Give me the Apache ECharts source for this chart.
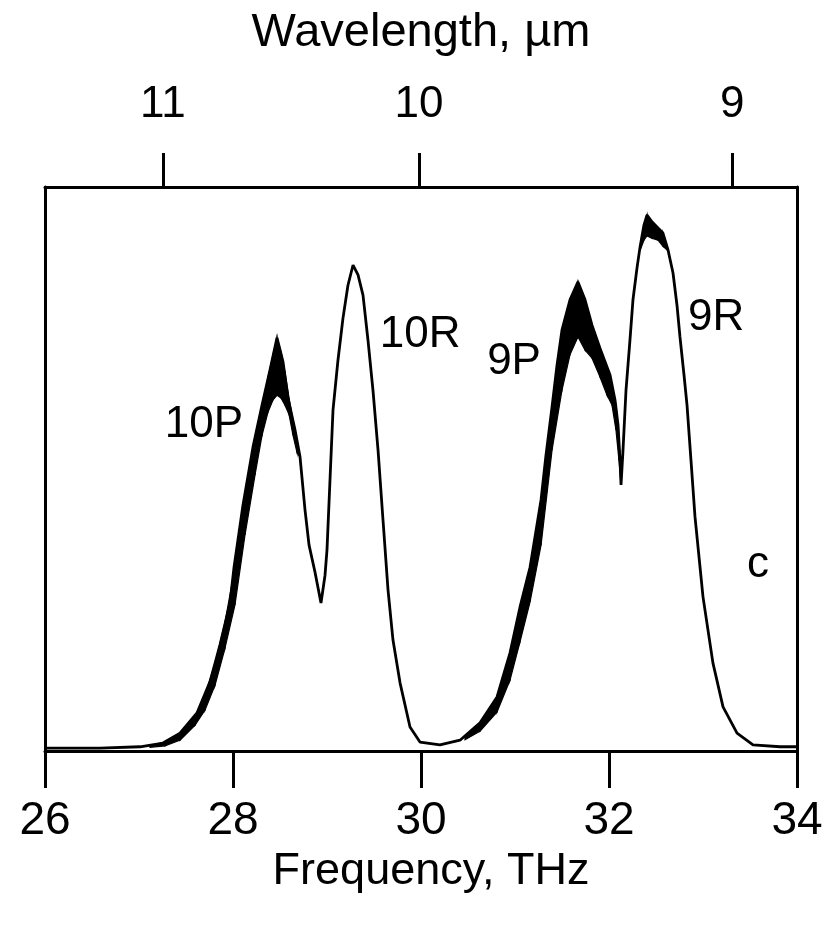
<!DOCTYPE html>
<html>
<head>
<meta charset="utf-8">
<script src="https://cdn.jsdelivr.net/npm/echarts@6/dist/echarts.min.js"></script>
<style>
  html, body { margin: 0; padding: 0; background: #fff; }
  #chart { width: 836px; height: 927px; }
</style>
</head>
<body>
<div id="chart"></div>
<script>
// ---- Data (frequency in THz, intensity in arbitrary units) ----
const spectrumFreq = [26.000, 26.585, 27.011, 27.255, 27.436, 27.617, 27.755, 27.862, 27.968, 28.011,
  28.106, 28.213, 28.309, 28.394, 28.468, 28.532, 28.585, 28.660, 28.713, 28.766,
  28.809, 28.872, 28.936, 28.979, 29.000, 29.032, 29.064, 29.117, 29.170, 29.223,
  29.277, 29.330, 29.383, 29.436, 29.489, 29.543, 29.596, 29.649, 29.702, 29.777,
  29.883, 29.989, 30.202, 30.415, 30.628, 30.809, 30.947, 31.053, 31.160, 31.277,
  31.330, 31.394, 31.447, 31.500, 31.585, 31.670, 31.745, 31.819, 31.904, 32.011,
  32.064, 32.096, 32.117, 32.128, 32.149, 32.181, 32.223, 32.255, 32.298, 32.330,
  32.372, 32.404, 32.457, 32.521, 32.574, 32.628, 32.681, 32.723, 32.755, 32.798,
  32.830, 32.872, 32.915, 33.000, 33.106, 33.213, 33.362, 33.532, 33.819, 34.000];
const spectrumIntensity = [0.006, 0.006, 0.009, 0.017, 0.038, 0.081, 0.147, 0.226, 0.315, 0.391,
  0.523, 0.647, 0.736, 0.811, 0.879, 0.828, 0.751, 0.683, 0.626, 0.513,
  0.438, 0.381, 0.315, 0.374, 0.428, 0.577, 0.726, 0.832, 0.921, 0.991,
  1.034, 1.013, 0.970, 0.874, 0.768, 0.640, 0.491, 0.343, 0.236, 0.145,
  0.051, 0.019, 0.013, 0.023, 0.060, 0.115, 0.209, 0.306, 0.391, 0.534,
  0.630, 0.732, 0.821, 0.896, 0.960, 0.998, 0.960, 0.906, 0.857, 0.800,
  0.747, 0.694, 0.619, 0.566, 0.640, 0.768, 0.874, 0.960, 1.028, 1.072,
  1.119, 1.140, 1.126, 1.113, 1.102, 1.066, 1.017, 0.949, 0.881, 0.800,
  0.736, 0.619, 0.498, 0.328, 0.187, 0.094, 0.038, 0.013, 0.009, 0.009];

// Noisy (thick) parts of the trace: upper and lower envelopes
const band10PFreq = [27.117, 27.277, 27.436, 27.596, 27.702, 27.809, 27.915, 28.021, 28.128, 28.234,
  28.309, 28.372, 28.426, 28.468, 28.511, 28.553, 28.596, 28.638, 28.681, 28.713];
const band10PTop = [0.011, 0.019, 0.038, 0.074, 0.119, 0.187, 0.274, 0.391, 0.549, 0.668,
  0.736, 0.794, 0.843, 0.879, 0.849, 0.806, 0.751, 0.704, 0.657, 0.626];
const band10PBottom = [0.008, 0.011, 0.023, 0.055, 0.087, 0.140, 0.219, 0.311, 0.460, 0.587,
  0.672, 0.721, 0.747, 0.757, 0.751, 0.736, 0.716, 0.672, 0.635, 0.626];

const band9PFreq = [30.468, 30.628, 30.809, 30.947, 31.053, 31.160, 31.277, 31.394, 31.500, 31.585,
  31.670, 31.745, 31.819, 31.904, 31.979, 32.032, 32.074, 32.106, 32.128];
const band9PTop = [0.028, 0.060, 0.115, 0.209, 0.306, 0.391, 0.534, 0.732, 0.896, 0.960,
  0.998, 0.960, 0.906, 0.857, 0.815, 0.779, 0.736, 0.672, 0.566];
const band9PBottom = [0.024, 0.042, 0.083, 0.151, 0.232, 0.317, 0.438, 0.640, 0.768, 0.843,
  0.881, 0.853, 0.836, 0.796, 0.757, 0.736, 0.683, 0.619, 0.566];

const band9RFreq = [32.340, 32.372, 32.404, 32.457, 32.521, 32.574, 32.617];
const band9RTop = [1.083, 1.119, 1.140, 1.126, 1.113, 1.102, 1.072];
const band9RBottom = [1.070, 1.087, 1.096, 1.091, 1.087, 1.074, 1.066];

// Annotations
const peakLabels = ['10P', '10R', '9P', '9R', 'c'];
const peakLabelFreq = [27.69, 29.99, 30.99, 33.14, 33.585];
const peakLabelIntensity = [0.694, 0.885, 0.828, 0.921, 0.396];

// Axes
const freqMin = 26, freqMax = 34, freqStep = 2;
const wavelengthTicks = [11, 10, 9]; // µm
const lightSpeed = 299.792458; // THz·µm
const intensityMax = 1.2;

// ---- Build chart ----
const FONT = "'Liberation Sans', Arial, sans-serif";
const chart = echarts.init(document.getElementById('chart'), null, { renderer: 'canvas' });

function bandSeries(freq, top, bottom) {
  const data = [];
  for (let i = 0; i < freq.length - 1; i++) {
    data.push([freq[i], top[i], bottom[i], freq[i + 1], top[i + 1], bottom[i + 1]]);
  }
  return {
    type: 'custom', data, silent: true, z: 3,
    encode: { x: [0, 3], y: [1, 2, 4, 5] },
    renderItem(params, api) {
      const a = api.coord([api.value(0), api.value(1)]);
      const b = api.coord([api.value(3), api.value(4)]);
      const c = api.coord([api.value(3), api.value(5)]);
      const d = api.coord([api.value(0), api.value(2)]);
      return {
        type: 'polygon', shape: { points: [a, b, c, d] },
        style: { fill: '#000', stroke: '#000', lineWidth: 1.2 }
      };
    }
  };
}

const wlFreqs = wavelengthTicks.map(w => lightSpeed / w);
const axisLineStyle = { color: '#000', width: 3 };

const option = {
  animation: false,
  backgroundColor: '#fff',
  grid: { left: 45, right: 39, top: 187, bottom: 176, containLabel: false },
  xAxis: [
    {
      type: 'value', position: 'bottom', min: freqMin, max: freqMax, interval: freqStep,
      axisLine: { show: true, onZero: false, lineStyle: axisLineStyle },
      axisTick: { show: true, length: 37, inside: false, lineStyle: axisLineStyle },
      axisLabel: { color: '#000', fontSize: 46, fontFamily: FONT, margin: 47 },
      splitLine: { show: false },
      name: 'Frequency, THz', nameLocation: 'middle', nameGap: 92,
      nameTextStyle: { color: '#000', fontSize: 45, fontFamily: FONT, padding: [0, 0, 0, 20] }
    },
    {
      type: 'value', position: 'top', min: freqMin, max: freqMax,
      axisLine: { show: true, onZero: false, lineStyle: axisLineStyle },
      axisTick: { show: true, length: 34, inside: false, customValues: wlFreqs, lineStyle: axisLineStyle },
      axisLabel: {
        show: true, customValues: wlFreqs, color: '#000', fontSize: 44, fontFamily: FONT, margin: 60,
        formatter: v => String(Math.round(lightSpeed / v))
      },
      splitLine: { show: false },
      name: 'Wavelength, µm', nameLocation: 'middle', nameGap: 130,
      nameTextStyle: { color: '#000', fontSize: 47, fontFamily: FONT }
    }
  ],
  yAxis: [
    {
      type: 'value', position: 'left', min: 0, max: intensityMax,
      axisLine: { show: true, onZero: false, lineStyle: axisLineStyle },
      axisTick: { show: false }, axisLabel: { show: false }, splitLine: { show: false }
    },
    {
      type: 'value', position: 'right', min: 0, max: intensityMax,
      axisLine: { show: true, onZero: false, lineStyle: axisLineStyle },
      axisTick: { show: false }, axisLabel: { show: false }, splitLine: { show: false }
    }
  ],
  series: [
    bandSeries(band10PFreq, band10PTop, band10PBottom),
    bandSeries(band9PFreq, band9PTop, band9PBottom),
    bandSeries(band9RFreq, band9RTop, band9RBottom),
    {
      type: 'line', name: 'spectrum',
      data: spectrumFreq.map((f, i) => [f, spectrumIntensity[i]]),
      symbol: 'none', lineStyle: { color: '#000', width: 2.8 }, z: 4
    },
    {
      type: 'custom', name: 'labels', silent: true, z: 5,
      data: peakLabels.map((t, i) => [peakLabelFreq[i], peakLabelIntensity[i]]),
      encode: { x: 0, y: 1 },
      renderItem(params, api) {
        const p = api.coord([api.value(0), api.value(1)]);
        return {
          type: 'text', x: p[0], y: p[1],
          style: {
            text: peakLabels[params.dataIndex], fill: '#000',
            fontSize: 44, fontFamily: FONT, align: 'center', verticalAlign: 'middle'
          }
        };
      }
    }
  ]
};
chart.setOption(option);
</script>
</body>
</html>
